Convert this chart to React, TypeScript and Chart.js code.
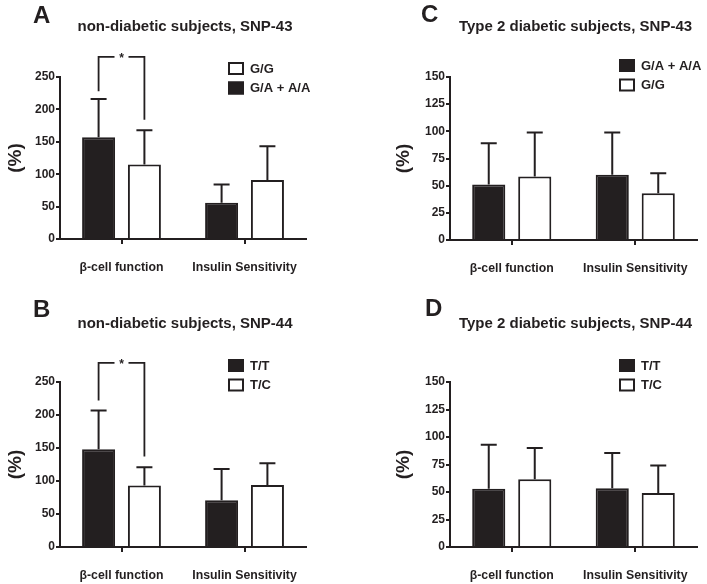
import React, { useEffect, useRef } from 'react';
import { Chart, registerables } from 'chart.js';

Chart.register(...registerables);

// ---------- data ----------
const categories = ['β-cell function', 'Insulin Sensitivity'];

// Panel A: non-diabetic subjects, SNP-43
const aTitle = 'non-diabetic subjects, SNP-43';
const aBlackLabel = 'G/A + A/A';
const aWhiteLabel = 'G/G';
const aBlackMean = [157, 56];
const aBlackSD = [59, 28];
const aWhiteMean = [115, 91];
const aWhiteSD = [53, 52];
const aBracket = [281, 228, 184]; // level, left leg end, right leg end

// Panel B: non-diabetic subjects, SNP-44
const bTitle = 'non-diabetic subjects, SNP-44';
const bBlackLabel = 'T/T';
const bWhiteLabel = 'T/C';
const bBlackMean = [148, 71];
const bBlackSD = [59, 47];
const bWhiteMean = [93, 94];
const bWhiteSD = [28, 33];
const bBracket = [279, 222, 137];

// Panel C: Type 2 diabetic subjects, SNP-43
const cTitle = 'Type 2 diabetic subjects, SNP-43';
const cBlackLabel = 'G/A + A/A';
const cWhiteLabel = 'G/G';
const cBlackMean = [51, 60];
const cBlackSD = [38, 39];
const cWhiteMean = [58.5, 43];
const cWhiteSD = [40.5, 18.5];

// Panel D: Type 2 diabetic subjects, SNP-44
const dTitle = 'Type 2 diabetic subjects, SNP-44';
const dBlackLabel = 'T/T';
const dWhiteLabel = 'T/C';
const dBlackMean = [53, 53.5];
const dBlackSD = [40, 32];
const dWhiteMean = [61.5, 49];
const dWhiteSD = [28.5, 25];

const yMaxNonDiabetic = 250;
const yStepNonDiabetic = 50;
const yMaxDiabetic = 150;
const yStepDiabetic = 25;

// ---------- style ----------
const INK = '#231f20';
const FONT = "'Liberation Sans', Arial, Helvetica, sans-serif";

type PanelCfg = {
  letter: string;
  title: string;
  left: number;
  top: number;
  width: number;
  height: number;
  area: { l: number; r: number; t: number; b: number };
  max: number;
  step: number;
  titleY: number;
  letterX: number;
  letterY: number;
  legendTop: number;
  legendReverse: boolean;
  yTitlePad: number;
  blackLabel: string;
  whiteLabel: string;
  blackMean: number[];
  blackSD: number[];
  whiteMean: number[];
  whiteSD: number[];
  bracket?: number[];
};

const panels: PanelCfg[] = [
  {
    letter: 'A', title: aTitle, left: 0, top: 0, width: 353, height: 292,
    area: { l: 60, r: 306, t: 77, b: 239 }, max: yMaxNonDiabetic, step: yStepNonDiabetic,
    titleY: 27, letterX: 33, letterY: 23, legendTop: 62, legendReverse: true, yTitlePad: 4,
    blackLabel: aBlackLabel, whiteLabel: aWhiteLabel,
    blackMean: aBlackMean, blackSD: aBlackSD, whiteMean: aWhiteMean, whiteSD: aWhiteSD,
    bracket: aBracket,
  },
  {
    letter: 'B', title: bTitle, left: 0, top: 292, width: 353, height: 292,
    area: { l: 60, r: 306, t: 90, b: 255 }, max: yMaxNonDiabetic, step: yStepNonDiabetic,
    titleY: 32, letterX: 33, letterY: 25, legendTop: 67, legendReverse: false, yTitlePad: 4,
    blackLabel: bBlackLabel, whiteLabel: bWhiteLabel,
    blackMean: bBlackMean, blackSD: bBlackSD, whiteMean: bWhiteMean, whiteSD: bWhiteSD,
    bracket: bBracket,
  },
  {
    letter: 'C', title: cTitle, left: 353, top: 0, width: 354, height: 292,
    area: { l: 97, r: 344, t: 77, b: 240 }, max: yMaxDiabetic, step: yStepDiabetic,
    titleY: 27, letterX: 68, letterY: 22, legendTop: 59, legendReverse: false, yTitlePad: 39,
    blackLabel: cBlackLabel, whiteLabel: cWhiteLabel,
    blackMean: cBlackMean, blackSD: cBlackSD, whiteMean: cWhiteMean, whiteSD: cWhiteSD,
  },
  {
    letter: 'D', title: dTitle, left: 353, top: 292, width: 354, height: 292,
    area: { l: 97, r: 344, t: 90, b: 255 }, max: yMaxDiabetic, step: yStepDiabetic,
    titleY: 32, letterX: 72, letterY: 24, legendTop: 67, legendReverse: false, yTitlePad: 39,
    blackLabel: dBlackLabel, whiteLabel: dWhiteLabel,
    blackMean: dBlackMean, blackSD: dBlackSD, whiteMean: dWhiteMean, whiteSD: dWhiteSD,
  },
];

function Panel({ cfg }: { cfg: PanelCfg }) {
  const ref = useRef<HTMLCanvasElement | null>(null);

  useEffect(() => {
    const canvas = ref.current;
    if (!canvas) return;
    const sds = [cfg.blackSD, cfg.whiteSD];

    const decor = {
      id: 'decor',
      afterDatasetsDraw(chart: any) {
        const ctx = chart.ctx as CanvasRenderingContext2D;
        const y = chart.scales.y;
        ctx.save();
        ctx.strokeStyle = INK;
        ctx.lineWidth = 2;
        ctx.lineCap = 'butt';
        chart.data.datasets.forEach((ds: any, di: number) => {
          const meta = chart.getDatasetMeta(di);
          meta.data.forEach((bar: any, i: number) => {
            const top = y.getPixelForValue(ds.data[i] + sds[di][i]);
            ctx.beginPath();
            ctx.moveTo(bar.x, bar.y);
            ctx.lineTo(bar.x, top);
            ctx.moveTo(bar.x - 8, top);
            ctx.lineTo(bar.x + 8, top);
            ctx.stroke();
          });
        });
        ctx.restore();
      },
      afterDraw(chart: any) {
        const ctx = chart.ctx as CanvasRenderingContext2D;
        const area = chart.chartArea;
        const y = chart.scales.y;
        ctx.save();
        ctx.fillStyle = INK;
        ctx.strokeStyle = INK;

        // panel letter
        ctx.font = `bold 24px ${FONT}`;
        ctx.textAlign = 'left';
        ctx.textBaseline = 'alphabetic';
        ctx.fillText(cfg.letter, cfg.letterX, cfg.letterY);

        // title
        ctx.font = `bold 15px ${FONT}`;
        ctx.textAlign = 'center';
        ctx.textBaseline = 'middle';
        ctx.fillText(cfg.title, (area.left + area.right) / 2 + 2, cfg.titleY);

        // legend
        const items = chart.data.datasets.map((ds: any) => ({ label: ds.label, fill: ds.backgroundColor }));
        if (cfg.legendReverse) items.reverse();
        const bx = area.right - 78;
        items.forEach((it: any, k: number) => {
          const by = cfg.legendTop + k * 19.5;
          ctx.fillStyle = it.fill;
          ctx.fillRect(bx, by, 16, 13);
          ctx.lineWidth = 2;
          ctx.strokeStyle = INK;
          ctx.strokeRect(bx + 1, by + 1, 14, 11);
          ctx.fillStyle = INK;
          ctx.font = `bold 13px ${FONT}`;
          ctx.textAlign = 'left';
          ctx.textBaseline = 'middle';
          ctx.fillText(it.label, bx + 22, by + 7);
        });

        // significance bracket
        if (cfg.bracket) {
          const m0 = chart.getDatasetMeta(0).data[0];
          const m1 = chart.getDatasetMeta(1).data[0];
          const lx = m0.x;
          const rx = m1.x;
          const cx = (lx + rx) / 2;
          const ly = y.getPixelForValue(cfg.bracket[0]);
          const l1 = y.getPixelForValue(cfg.bracket[1]);
          const r1 = y.getPixelForValue(cfg.bracket[2]);
          ctx.lineWidth = 1.8;
          ctx.beginPath();
          ctx.moveTo(lx, l1);
          ctx.lineTo(lx, ly);
          ctx.lineTo(cx - 7, ly);
          ctx.moveTo(cx + 7, ly);
          ctx.lineTo(rx, ly);
          ctx.lineTo(rx, r1);
          ctx.stroke();
          ctx.font = `bold 12px ${FONT}`;
          ctx.textAlign = 'center';
          ctx.textBaseline = 'middle';
          ctx.fillText('*', cx, ly + 2);
        }
        ctx.restore();
      },
    };

    const chart = new Chart(canvas, {
      type: 'bar',
      data: {
        labels: categories,
        datasets: [
          {
            label: cfg.blackLabel,
            data: cfg.blackMean,
            backgroundColor: INK,
            borderColor: INK,
            borderWidth: 2,
            barPercentage: 0.72,
            categoryPercentage: 0.745,
          },
          {
            label: cfg.whiteLabel,
            data: cfg.whiteMean,
            backgroundColor: '#ffffff',
            borderColor: INK,
            borderWidth: 2,
            barPercentage: 0.72,
            categoryPercentage: 0.745,
          },
        ],
      },
      options: {
        responsive: false,
        animation: false,
        devicePixelRatio: 1,
        layout: {
          padding: {
            left: 0,
            top: cfg.area.t,
            right: cfg.width - cfg.area.r,
            bottom: 0,
          },
        },
        plugins: {
          legend: { display: false },
          title: { display: false },
          tooltip: { enabled: false },
        },
        scales: {
          x: {
            z: 1,
            offset: true,
            grid: {
              display: true,
              drawOnChartArea: false,
              drawTicks: true,
              offset: false,
              tickLength: 5,
              lineWidth: 2,
              color: INK,
            },
            border: { display: true, color: INK, width: 2 },
            ticks: {
              color: INK,
              font: { family: FONT, weight: 'bold', size: 12.3 },
              padding: 16,
              maxRotation: 0,
              autoSkip: false,
            },
            afterFit: (scale: any) => {
              scale.height = cfg.height - cfg.area.b;
            },
          },
          y: {
            z: 1,
            min: 0,
            max: cfg.max,
            grid: {
              display: true,
              drawOnChartArea: false,
              drawTicks: true,
              tickLength: 4,
              lineWidth: 2,
              color: INK,
            },
            border: { display: true, color: INK, width: 2 },
            ticks: {
              stepSize: cfg.step,
              color: INK,
              padding: 1,
              font: { family: FONT, weight: 'bold', size: 12 },
            },
            title: {
              display: true,
              text: '(%)',
              color: INK,
              font: { family: FONT, weight: 'bold', size: 19 },
              padding: { top: cfg.yTitlePad, bottom: 0 },
            },
            afterFit: (scale: any) => {
              scale.width = cfg.area.l;
            },
          },
        },
      },
      plugins: [decor],
    } as any);

    return () => chart.destroy();
  }, [cfg]);

  return (
    <canvas
      ref={ref}
      width={cfg.width}
      height={cfg.height}
      style={{
        position: 'absolute',
        left: cfg.left,
        top: cfg.top,
        width: cfg.width,
        height: cfg.height,
        display: 'block',
      }}
    />
  );
}

export default function App() {
  return (
    <div
      style={{
        position: 'absolute',
        left: 0,
        top: 0,
        width: 707,
        height: 584,
        background: '#ffffff',
        overflow: 'hidden',
      }}
    >
      {panels.map((p) => (
        <Panel key={p.letter} cfg={p} />
      ))}
    </div>
  );
}
